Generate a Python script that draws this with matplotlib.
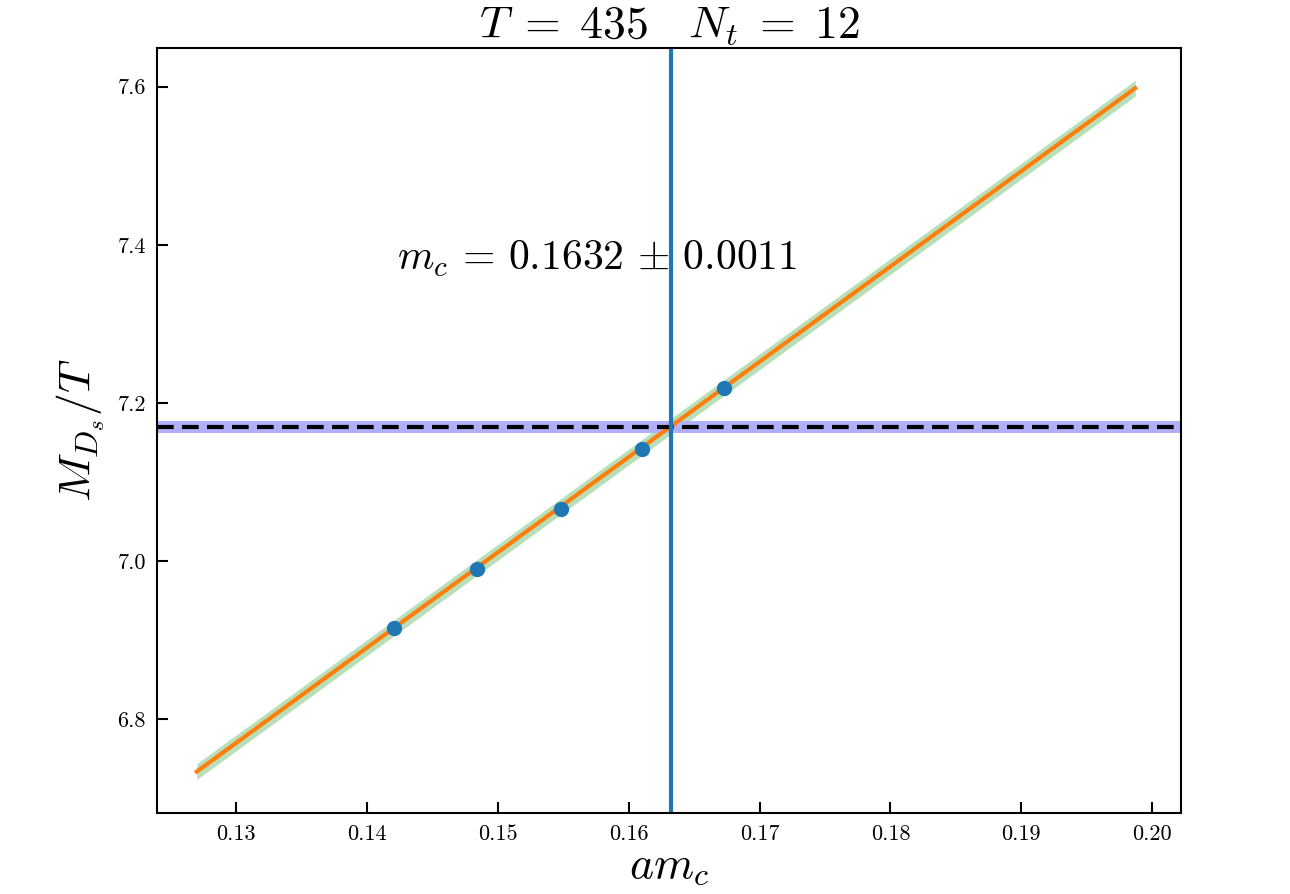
import numpy as np
import matplotlib
matplotlib.use("Agg")
import matplotlib.pyplot as plt

plt.rcParams['mathtext.fontset'] = 'cm'
plt.rcParams['font.family'] = 'serif'
plt.rcParams['font.serif'] = ['cmr10', 'DejaVu Serif']
plt.rcParams['axes.formatter.use_mathtext'] = True

# data
am_c = [0.1421, 0.1484, 0.1548, 0.1610, 0.1673]
M_over_T = [6.915, 6.990, 7.066, 7.142, 7.219]
fit_x_range = [0.1270, 0.1987]
fit_slope = 12.06
fit_intercept = 7.170 - 12.06 * 0.1632
fit_band = 0.010
target = 7.169
target_err = 0.0075
mc_val = 0.1632
mc_err = 0.0011
title = r'$T \;=\; 435 \quad N_t \;=\; 12$'
xticks = [0.13, 0.14, 0.15, 0.16, 0.17, 0.18, 0.19, 0.20]
yticks = [6.8, 7.0, 7.2, 7.4, 7.6]

fig = plt.figure(figsize=(12.9, 8.94), dpi=100)
ax = fig.add_axes([0.1217, 0.0906, 0.9155 - 0.1217, 0.9463 - 0.0906])

xf = np.linspace(fit_x_range[0], fit_x_range[1], 200)
yf = fit_intercept + fit_slope * xf
ax.fill_between(xf, yf - fit_band, yf + fit_band, color='tab:green', alpha=0.33, lw=0)
ax.plot(xf, yf, color='tab:orange', lw=3)

ax.axhspan(target - target_err, target + target_err, color='#b0b0fa', lw=0)
ax.axhline(target, color='black', ls='--', lw=3, dashes=(4, 2))
ax.axvline(mc_val, color='tab:blue', lw=3)

ax.plot(am_c, M_over_T, 'o', color='tab:blue', ms=10)

ax.text(0.1423, 7.368, r'$m_c \,=\, %.4f \,\pm\, %.4f$' % (mc_val, mc_err), fontsize=30,
        ha='left', va='baseline')

ax.set_xlim(0.12396, 0.2022)
ax.set_ylim(6.681, 7.649)
ax.set_xticks(xticks)
ax.set_xticklabels(['%.2f' % v for v in xticks])
ax.set_yticks(yticks)
ax.set_yticklabels(['%.1f' % v for v in yticks])
ax.tick_params(direction='in', length=8, width=1.5, labelsize=16, pad=8)
for s in ax.spines.values():
    s.set_linewidth(1.5)

ax.set_xlabel(r'$am_c$', fontsize=33, labelpad=2)
ax.set_ylabel(r'$M_{D_s}/T$', fontsize=33, labelpad=8)
ax.set_title(title, fontsize=33, pad=4)

fig.savefig('out.png', dpi=100)
